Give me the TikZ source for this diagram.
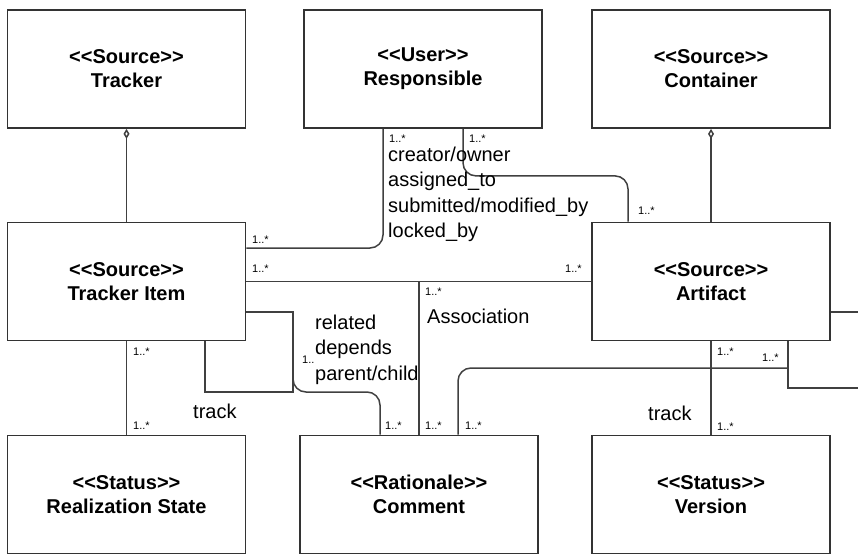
\documentclass[tikz,border=0pt]{standalone}
\usepackage{fontspec}
\setmainfont{Liberation Sans}[Ligatures=TeXOff]
\usetikzlibrary{arrows.meta}

\tikzset{
  classbox/.style={draw=black!80, line width=1.8pt, minimum width=238pt, minimum height=118pt,
    align=center, inner sep=0pt, font=\fontsize{20}{24}\selectfont\bfseries},
  assoc/.style={draw=black!75, line width=1.5pt, rounded corners=13pt},
  agg/.style={{Diamond[open, length=10pt, width=6pt]}-},
  mult/.style={font=\fontsize{11}{12}\selectfont, inner sep=0pt, anchor=west},
  role/.style={font=\fontsize{20}{25.3}\selectfont, inner sep=0pt, align=left, anchor=north west},
}

\begin{document}
\begin{tikzpicture}[x=1pt, y=-1pt]
  \useasboundingbox (0,0) rectangle (858,556);
  % classes
  \node[classbox] (tracker) at (126.5,69) {<<Source>>\\Tracker};
  \node[classbox] (responsible) at (423,69) {<<User>>\\Responsible};
  \node[classbox] (container) at (711,69) {<<Source>>\\Container};
  \node[classbox] (trackeritem) at (126.5,281.5) {<<Source>>\\Tracker Item};
  \node[classbox] (artifact) at (711,281.5) {<<Source>>\\Artifact};
  \node[classbox] (realization) at (126.5,494.5) {<<Status>>\\Realization State};
  \node[classbox] (comment) at (419,494.5) {<<Rationale>>\\Comment};
  \node[classbox] (version) at (711,494.5) {<<Status>>\\Version};

  % aggregations
  \draw[assoc, agg] (tracker.south) -- (trackeritem.north);
  \draw[assoc, agg] (container.south) -- (artifact.north);

  % responsible
  \draw[assoc] ([xshift=-40pt]responsible.south) |- ([yshift=33.5pt]trackeritem.east);
  \draw[assoc] ([xshift=40pt]responsible.south) -- ++(0,47) -| ([xshift=-83pt]artifact.north);

  % association
  \draw[assoc] (trackeritem.east) -- (artifact.west);
  \draw[assoc] (comment.north |- trackeritem.east) -- (comment.north);
  \draw[assoc] (trackeritem.south) -- (realization.north);

  % self loop and related
  \coordinate (loopne) at (293,312);
  \coordinate (loopse) at (293,392);
  \draw[assoc, sharp corners] ([xshift=78.5pt]trackeritem.south) |- (loopse) |- (loopne -| trackeritem.east);
  \draw[assoc] (loopne) -- (loopse) -| ([xshift=-39pt]comment.north);

  % artifact
  \draw[assoc] (artifact.south) -- (version.north);
  \coordinate (artbend) at (788,368);
  \coordinate (offright) at (858,388);
  \coordinate (offright2) at (858,312);
  \draw[assoc, sharp corners] ([xshift=77pt]artifact.south) |- (offright);
  \draw[assoc] (artbend) -| ([xshift=39pt]comment.north);
  \draw[assoc] (offright2 -| artifact.east) -- (offright2);

  % multiplicities
  \foreach \x/\y [count=\i] in {389/139, 469/139, 638/211, 252/240, 252/269, 565/269, 425/292,
      133/352, 133/426, 385/426, 425/426, 465/426, 717/352, 762/358, 717/427}
    \node[mult] (mult\i) at (\x,\y) {1..*};
  \node[mult] (multrel) at (302,360) {1..};

  % roles
  \node[role] (roles) at (388,147) {creator/owner\\assigned\_to\\submitted/modified\_by\\locked\_by};
  \node[role] (related) at (315,315) {related\\depends\\parent/child};
  \node[role, anchor=west] (assocname) at (427,316) {Association};
  \node[role, anchor=west] (trackl) at (193,411) {track};
  \node[role, anchor=west] (trackr) at (648,413) {track};
\end{tikzpicture}
\end{document}
